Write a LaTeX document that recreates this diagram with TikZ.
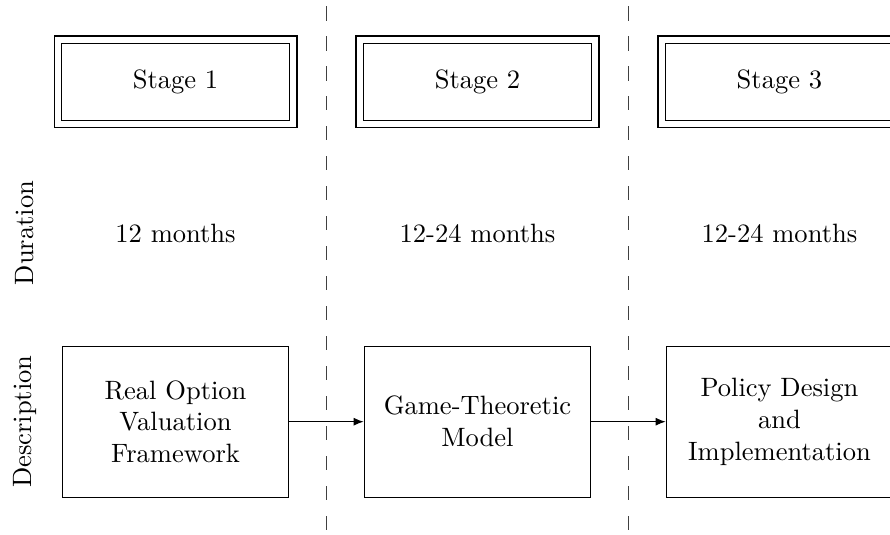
\documentclass[tikz,border=0pt]{standalone}
\usepackage{tikz}
\usetikzlibrary{arrows.meta,positioning}
\tikzset{
  stagebox/.style = {rectangle, draw=black, double, double distance=2.4pt,
                     line width=0.4pt, minimum width=3.12cm, minimum height=1.12cm,
                     align=center, inner sep=3pt},
  descbox/.style  = {rectangle, draw=black, line width=0.4pt,
                     minimum width=3cm, minimum height=2cm,
                     align=center, inner sep=3pt},
  rowlab/.style   = {rotate=90, align=center},
  sep/.style      = {draw=black!75, line width=0.5pt, dash pattern=on 5.3pt off 6pt},
  ar/.style       = {-{Latex[length=3.8pt, width=3pt]}, draw=black, line width=0.4pt}
}
\begin{document}
\begin{tikzpicture}[x=1cm, y=1cm]
  \useasboundingbox (-2.325,1.086) rectangle (9.464,-6.0);

  % ===================== separators between stages =====================
  \coordinate (s1top) at (2,1);
  \coordinate (s1bot) at (2,-6);
  \coordinate (s2top) at (6,1);
  \coordinate (s2bot) at (6,-6);
  \draw[sep] (s1top) -- (s1bot);
  \draw[sep] (s2top) -- (s2bot);

  % ===================== top row: stages =====================
  \node[stagebox] (stage1) at (0,0) {Stage 1};
  \node[stagebox] (stage2) at (4,0) {Stage 2};
  \node[stagebox] (stage3) at (8,0) {Stage 3};

  % ===================== middle row: duration =====================
  \node[rowlab] (durlab) at (-2,-2) {Duration};
  \node (dur1) at (0,-2) {12 months};
  \node (dur2) at (4,-2) {12-24 months};
  \node (dur3) at (8,-2) {12-24 months};

  % ===================== bottom row: description =====================
  \node[rowlab] (desclab) at (-2,-4.5) {Description};
  \node[descbox] (desc1) at (0,-4.5) {Real Option\\Valuation\\Framework};
  \node[descbox] (desc2) at (4,-4.5) {Game-Theoretic\\Model};
  \node[descbox] (desc3) at (8,-4.5) {Policy Design\\and\\Implementation};

  % ===================== arrows =====================
  \draw[ar] (desc1.east) -- (desc2.west);
  \draw[ar] (desc2.east) -- (desc3.west);
\end{tikzpicture}
\end{document}
